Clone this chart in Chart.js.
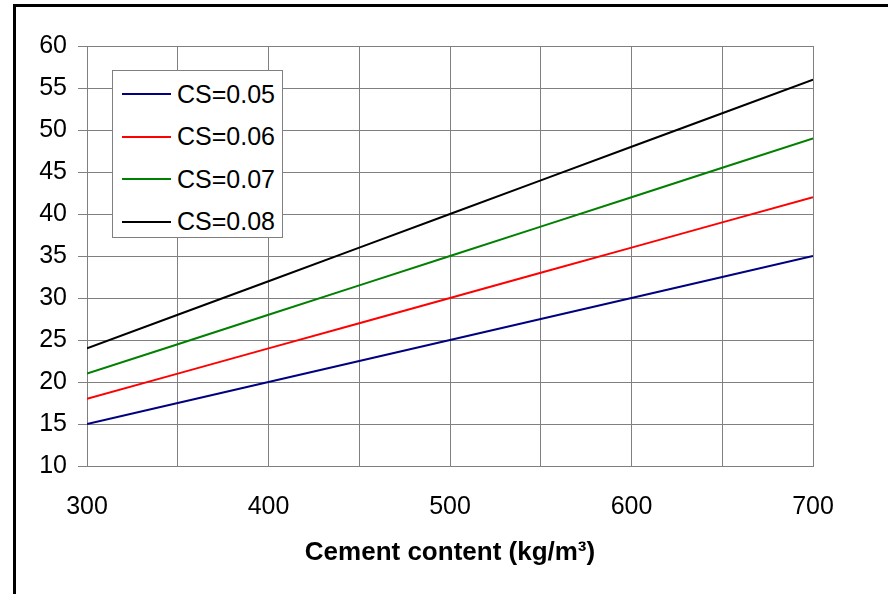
<!DOCTYPE html>
<html>
<head>
<meta charset="utf-8">
<script src="https://cdn.jsdelivr.net/npm/chart.js@4"></script>
<style>
  html, body { margin: 0; padding: 0; background: #fff; }
  #wrap { position: relative; width: 888px; height: 594px; overflow: hidden; }
  #frame { position: absolute; left: 13px; top: 4px; width: 1000px; height: 700px; border-left: 3px solid #000; border-top: 3px solid #000; }
  #chart { position: absolute; left: 0; top: 0; }
  #legend { position: absolute; left: 112px; top: 70px; width: 171px; height: 168px; border: 1px solid #808080; background: #fff;
            font-family: "Liberation Sans", Arial, sans-serif; font-size: 25px; color: #000; box-sizing: border-box; padding-top: 2px; }
  #legend .row { display: flex; align-items: center; height: 42.5px; }
  #legend .swatch { width: 49px; height: 2px; margin-left: 9px; margin-right: 6px; }
</style>
</head>
<body>
<div id="wrap">
  <div id="frame"></div>
  <canvas id="chart" width="888" height="594"></canvas>
  <div id="legend"></div>
</div>
<script>
const cementContent = [300, 350, 400, 450, 500, 550, 600, 650, 700];
const seriesLabels = ['CS=0.05', 'CS=0.06', 'CS=0.07', 'CS=0.08'];
const cs005 = [15, 17.5, 20, 22.5, 25, 27.5, 30, 32.5, 35];
const cs006 = [18, 21, 24, 27, 30, 33, 36, 39, 42];
const cs007 = [21, 24.5, 28, 31.5, 35, 38.5, 42, 45.5, 49];
const cs008 = [24, 28, 32, 36, 40, 44, 48, 52, 56];
const seriesColors = ['#000080', '#ff0000', '#008000', '#000000'];

const FONT = '"Liberation Sans", Arial, sans-serif';
const GRID = '#808080';

const datasets = [cs005, cs006, cs007, cs008].map((vals, i) => ({
  label: seriesLabels[i],
  data: cementContent.map((x, j) => ({ x, y: vals[j] })),
  borderColor: seriesColors[i],
  backgroundColor: seriesColors[i],
  borderWidth: 2,
  pointRadius: 0,
  tension: 0,
  fill: false,
}));

const chart = new Chart(document.getElementById('chart'), {
  type: 'line',
  data: { datasets },
  options: {
    responsive: false,
    animation: false,
    layout: { padding: { left: 0, right: 75, top: 46, bottom: 0 } },
    plugins: {
      legend: { display: false },
      tooltip: { enabled: false },
    },
    scales: {
      x: {
        type: 'linear',
        min: 300,
        max: 700,
        afterFit: (s) => { s.height = 128; },
        ticks: {
          stepSize: 50,
          autoSkip: false,
          maxRotation: 0,
          padding: 26,
          color: '#000',
          font: { family: FONT, size: 25 },
          callback: (v) => (v % 100 === 0 ? v : ''),
        },
        grid: { color: GRID, lineWidth: 1, drawTicks: false },
        border: { color: GRID, width: 1 },
        title: {
          display: true,
          text: 'Cement content (kg/m³)',
          color: '#000',
          font: { family: FONT, size: 26, weight: 'bold' },
          padding: { top: 0, bottom: 26 },
        },
      },
      y: {
        min: 10,
        max: 60,
        afterFit: (s) => { s.width = 87; },
        ticks: {
          stepSize: 5,
          padding: 11,
          color: '#000',
          font: { family: FONT, size: 25 },
        },
        grid: { color: GRID, lineWidth: 1, tickLength: 9 },
        border: { color: GRID, width: 1 },
      },
    },
  },
});

// legend box drawn in the page, inside the plot area
const legendEl = document.getElementById('legend');
chart.data.datasets.forEach((ds) => {
  const row = document.createElement('div');
  row.className = 'row';
  const sw = document.createElement('span');
  sw.className = 'swatch';
  sw.style.background = ds.borderColor;
  const txt = document.createElement('span');
  txt.textContent = ds.label;
  row.appendChild(sw);
  row.appendChild(txt);
  legendEl.appendChild(row);
});
</script>
</body>
</html>
